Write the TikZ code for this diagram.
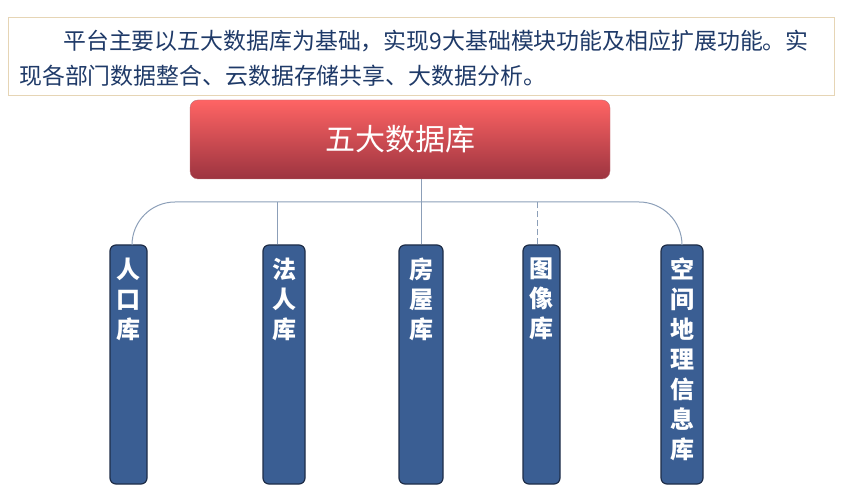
\documentclass[tikz,border=0pt]{standalone}
\usepackage{xcolor}
\usepackage{fontspec}
\newfontfamily\cjk{Noto Sans CJK SC}
\usepackage{tikz}
\usetikzlibrary{positioning, backgrounds}

\definecolor{navy}{HTML}{1F3A68}
\definecolor{tan}{HTML}{E6D5B5}
\definecolor{redtop}{HTML}{FF6464}
\definecolor{redmid}{HTML}{E2565C}
\definecolor{redbot}{HTML}{9C3440}
\definecolor{dbblue}{HTML}{3A5E93}
\definecolor{dbedge}{HTML}{1E2D48}
\definecolor{link}{HTML}{8C9FB8}

\begin{document}
\begin{tikzpicture}[x=1pt, y=-1pt]
\tikzstyle{col} = [rectangle, rounded corners=6pt, draw=dbedge, line width=1.2pt, fill=dbblue, minimum height=239pt, inner sep=0pt]
\tikzstyle{coltxt} = [text=white, font=\cjk\bfseries\fontsize{24}{30}\selectfont, align=center, inner sep=0pt]
\tikzstyle{intro} = [anchor=base west, inner sep=0pt, text=navy, font=\cjk\fontsize{22.9}{28}\selectfont]
\tikzstyle{line} = [draw=link, line width=1pt]

\useasboundingbox (0,0) rectangle (850,502);

% intro text
\node (frame) [draw=tan, line width=0.8pt, minimum width=826pt, minimum height=78pt, anchor=north west] at (8,17) {};
\node (intro1) [intro] at (63,50) {平台主要以五大数据库为基础，实现9大基础模块功能及相应扩展功能。实};
\node (intro2) [intro] at (19,85) {现各部门数据整合、云数据存储共享、大数据分析。};

% main box
\node (db) [rectangle, rounded corners=8pt, minimum width=420pt, minimum height=79pt, top color=redtop, middle color=redmid, bottom color=redbot, draw=redbot!70, text=white, font=\cjk\fontsize{30}{36}\selectfont] at (400,139.5) {五大数据库};

% five columns
\node (rk) [col, minimum width=37pt] at (128.5,364.5) {};
\node (fr) [col, minimum width=42pt] at (284,364.5) {};
\node (fw) [col, minimum width=44pt] at (421,364.5) {};
\node (tx) [col, minimum width=37pt] at (541.5,364.5) {};
\node (kj) [col, minimum width=42pt] at (682,364.5) {};

\node (rkt) [coltxt, below=13pt of rk.north] {人\\口\\库};
\node (frt) [coltxt, below=13pt of fr.north] {法\\人\\库};
\node (fwt) [coltxt, below=13pt of fw.north] {房\\屋\\库};
\node (txt) [coltxt, below=13pt of tx.north] {图\\像\\库};
\node (kjt) [coltxt, below=13pt of kj.north] {空\\间\\地\\理\\信\\息\\库};

% links
\coordinate (bus) at (421,202);
\draw [line] (db.south -| fw.north) -- (fw.north);
\draw [line, rounded corners=43pt] ([xshift=3.5pt]rk.north) |- (bus) -| (kj.north);
\draw [line] ([xshift=-7pt]fr.north) -- ([xshift=-7pt]fr.north |- bus);
\draw [line, dash pattern=on 6pt off 3pt] ([xshift=-4.5pt]tx.north) -- ([xshift=-4.5pt]tx.north |- bus);
\end{tikzpicture}
\end{document}
